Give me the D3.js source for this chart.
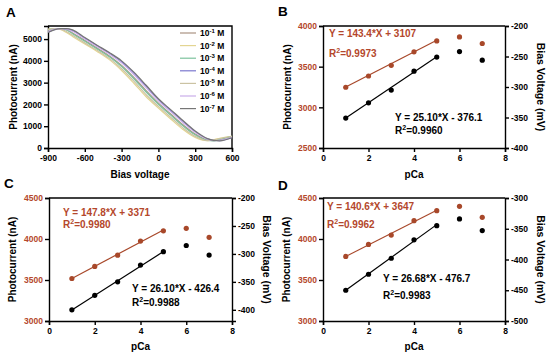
<!DOCTYPE html>
<html>
<head>
<meta charset="utf-8">
<script src="https://cdn.jsdelivr.net/npm/d3@7"></script>
<style>
  body { margin: 0; background: #fff; }
  svg { display: block; font-family: "Liberation Sans", Arial, sans-serif; font-weight: bold; }
</style>
</head>
<body>
<script>
// ---- panel A: photocurrent vs bias voltage, one curve per Ca concentration
const biasV = [-900, -850, -800, -750, -700, -600, -500, -400, -300, -200, -100, 0, 100, 200, 300, 400, 450, 500, 600];
const concExp = ["-1", "-2", "-3", "-4", "-5", "-6", "-7"];
const concColors = ["#a99282", "#e3d592", "#7cc29c", "#7b78cf", "#cbc3a3", "#c9aee9", "#767676"];
const curr1 = [5396, 5468, 5480, 5432, 5280, 4930, 4584, 4228, 3792, 3240, 2632, 2060, 1560, 1068, 640, 366, 334, 386, 526];
const curr2 = [5462, 5480, 5438, 5298, 5122, 4771, 4431, 4057, 3558, 2973, 2353, 1835, 1332, 852, 482, 336, 379, 449, 540];
const curr3 = [5420, 5480, 5480, 5420, 5245, 4895, 4550, 4190, 3740, 3180, 2570, 2010, 1510, 1020, 605, 350, 330, 400, 540];
const curr4 = [5319, 5430, 5480, 5470, 5392, 5042, 4693, 4350, 3958, 3432, 2830, 2220, 1720, 1222, 752, 417, 347, 341, 481];
const curr5 = [5440, 5480, 5456, 5350, 5175, 4825, 4482, 4114, 3636, 3066, 2446, 1910, 1410, 924, 535, 342, 358, 428, 540];
const curr6 = [5343, 5442, 5480, 5458, 5357, 5007, 4659, 4312, 3906, 3372, 2768, 2170, 1670, 1174, 717, 401, 343, 355, 495];
const curr7 = [5300, 5420, 5480, 5480, 5420, 5070, 4720, 4380, 4000, 3480, 2880, 2260, 1760, 1260, 780, 430, 350, 330, 470];
const currA = [curr1, curr2, curr3, curr4, curr5, curr6, curr7];

// ---- panels B, C, D: photocurrent (left) and bias voltage (right) vs pCa
const pCa = [1, 2, 3, 4, 5, 6, 7];
const photoB = [3247, 3385, 3516, 3682, 3817, 3866, 3785];
const biasB = [-351, -326, -305, -274, -251, -242, -256];
const photoC = [3518, 3665, 3803, 3975, 4100, 4130, 4020];
const biasC = [-400, -374, -350, -320, -296, -285, -302];
const photoD = [3787, 3934, 4048, 4223, 4345, 4398, 4264];
const biasD = [-450, -424, -398, -368, -345, -334, -353];

const fitB = { photo: [143.4, 3107, "0.9973"], bias: [25.10, -376.1, "0.9960"] };
const fitC = { photo: [147.8, 3371, "0.9980"], bias: [26.10, -426.4, "0.9988"] };
const fitD = { photo: [140.6, 3647, "0.9962"], bias: [26.68, -476.7, "0.9983"] };

const red = "#b4472b";
const redPt = "#a8482a";
const plain = d => String(d);   // keep ASCII hyphen, no thousands separator

const svg = d3.select("body").append("svg").attr("width", 550).attr("height", 358);

function label(x, y, txt, size, fill) {
  return svg.append("text").attr("x", x).attr("y", y).attr("font-size", size)
    .attr("fill", fill || "#000").text(txt);
}

function styleAxis(g, color) {
  g.select(".domain").attr("stroke", "#000").attr("stroke-width", 1.4);
  g.selectAll(".tick line").attr("stroke", "#000").attr("stroke-width", 1.4);
  g.selectAll(".tick text").attr("fill", color || "#000")
    .attr("font-size", 8.5).attr("font-family", "Liberation Sans, Arial, sans-serif").attr("font-weight", "bold");
}

// ---------- panel A ----------
{
  const L = 48, R = 232, T = 26, B = 148;
  const x = d3.scaleLinear().domain([-900, 600]).range([L, R]);
  const y = d3.scaleLinear().domain([0, 5600]).range([B, T]);

  svg.append("g").attr("transform", `translate(0,${B})`)
    .call(d3.axisBottom(x).tickValues([-900, -600, -300, 0, 300, 600]).tickFormat(plain).tickSize(4).tickPadding(3))
    .call(g => styleAxis(g));
  svg.append("g").attr("transform", `translate(${L},0)`)
    .call(d3.axisLeft(y).tickValues([0, 1000, 2000, 3000, 4000, 5000]).tickFormat(plain).tickSize(4).tickPadding(2))
    .call(g => styleAxis(g));
  svg.append("path").attr("d", `M${L},${T}H${R}V${B}`).attr("fill", "none").attr("stroke", "#000").attr("stroke-width", 1.4);

  const line = d3.line().x((d, i) => x(biasV[i])).y(d => y(d)).curve(d3.curveMonotoneX);
  currA.forEach((c, k) => {
    svg.append("path").attr("d", line(c)).attr("fill", "none")
      .attr("stroke", concColors[k]).attr("stroke-width", 1.2);
  });

  concExp.forEach((e, k) => {
    const yy = 33 + k * 12.6;
    svg.append("line").attr("x1", 180).attr("x2", 196).attr("y1", yy).attr("y2", yy)
      .attr("stroke", concColors[k]).attr("stroke-width", 1.2);
    const t = svg.append("text").attr("x", 200).attr("y", yy + 3).attr("font-size", 8.5);
    t.append("tspan").text("10");
    t.append("tspan").attr("dy", -3).attr("font-size", 6).text(e);
    t.append("tspan").attr("dy", 3).text(" M");
  });

  label(6, 17, "A", 13.5);
  label(13, (T + B) / 2, "Photocurrent (nA)", 10).attr("text-anchor", "middle")
    .attr("transform", `rotate(-90,13,${(T + B) / 2})`).attr("dy", "0.35em");
  label((L + R) / 2, 178, "Bias voltage", 10).attr("text-anchor", "middle");
}

// ---------- panels B, C, D ----------
function dualPanel(o) {
  const { L, R, T, B } = o;
  const x = d3.scaleLinear().domain([0, 8]).range([L, R]);
  const yL = d3.scaleLinear().domain(o.leftDom).range([B, T]);
  const yR = d3.scaleLinear().domain(o.rightDom).range([B, T]);

  svg.append("g").attr("transform", `translate(0,${B})`)
    .call(d3.axisBottom(x).tickValues([0, 2, 4, 6, 8]).tickFormat(plain).tickSize(4).tickPadding(3))
    .call(g => styleAxis(g));
  svg.append("g").attr("transform", `translate(${L},0)`)
    .call(d3.axisLeft(yL).tickValues(o.leftTicks).tickFormat(plain).tickSize(4).tickPadding(2))
    .call(g => styleAxis(g, red));
  svg.append("g").attr("transform", `translate(${R},0)`)
    .call(d3.axisRight(yR).tickValues(o.rightTicks).tickFormat(plain).tickSize(4).tickPadding(2))
    .call(g => styleAxis(g));
  svg.append("line").attr("x1", L).attr("x2", R).attr("y1", T).attr("y2", T)
    .attr("stroke", "#000").attr("stroke-width", 1.4);

  // fitted lines over pCa 1..5
  const fitX = [1, 5];
  svg.append("path").attr("fill", "none").attr("stroke", redPt).attr("stroke-width", 1.2)
    .attr("d", d3.line().x(d => x(d)).y(d => yL(o.fit.photo[0] * d + o.fit.photo[1]))(fitX));
  svg.append("path").attr("fill", "none").attr("stroke", "#000").attr("stroke-width", 1.2)
    .attr("d", d3.line().x(d => x(d)).y(d => yR(o.fit.bias[0] * d + o.fit.bias[1]))(fitX));

  svg.append("g").selectAll("circle").data(o.photo).join("circle")
    .attr("cx", (d, i) => x(pCa[i])).attr("cy", d => yL(d)).attr("r", 2.6).attr("fill", redPt);
  svg.append("g").selectAll("circle").data(o.bias).join("circle")
    .attr("cx", (d, i) => x(pCa[i])).attr("cy", d => yR(d)).attr("r", 2.6).attr("fill", "#000");

  const sign = v => v < 0 ? ` - ${Math.abs(v)}` : ` + ${v}`;
  const fmt = (a, b) => `Y = ${a.toFixed(1 + (a < 100 ? 1 : 0))}*X${sign(b)}`;
  function eq(px, py, f, color) {
    label(L + px[0], T + py[0], fmt(f[0], f[1]), 10, color);
    const t = svg.append("text").attr("x", L + px[0]).attr("y", T + py[1]).attr("font-size", 10).attr("fill", color);
    t.append("tspan").text("R");
    t.append("tspan").attr("dy", -4).attr("font-size", 7).text("2");
    t.append("tspan").attr("dy", 4).text("=" + f[2]);
  }
  eq(o.redPos, o.redY, o.fit.photo, red);
  eq(o.blackPos, o.blackY, o.fit.bias, "#000");

  label(o.letter[1], o.letter[2], o.letter[0], 13.5);
  const my = (T + B) / 2;
  label(o.leftTitleX, my, "Photocurrent (nA)", 10).attr("text-anchor", "middle")
    .attr("transform", `rotate(-90,${o.leftTitleX},${my})`).attr("dy", "0.35em");
  label(o.rightTitleX, my, "Bias Voltage (mV)", 10.5).attr("text-anchor", "middle")
    .attr("transform", `rotate(90,${o.rightTitleX},${my})`).attr("dy", "0.35em");
  label((L + R) / 2, o.xTitleY, "pCa", 10).attr("text-anchor", "middle");
}

dualPanel({
  L: 323, R: 505, T: 26, B: 148,
  leftDom: [2500, 4000], leftTicks: [2500, 3000, 3500, 4000],
  rightDom: [-400, -200], rightTicks: [-400, -350, -300, -250, -200],
  photo: photoB, bias: biasB, fit: fitB,
  redPos: [6], redY: [11, 31], blackPos: [72], blackY: [95, 108],
  letter: ["B", 278, 16], leftTitleX: 287, rightTitleX: 541, xTitleY: 178
});
dualPanel({
  L: 49, R: 232, T: 198, B: 321,
  leftDom: [3000, 4500], leftTicks: [3000, 3500, 4000, 4500],
  rightDom: [-420, -200], rightTicks: [-400, -350, -300, -250, -200],
  photo: photoC, bias: biasC, fit: fitC,
  redPos: [14], redY: [18, 30], blackPos: [83], blackY: [94, 108],
  letter: ["C", 4, 188], leftTitleX: 12, rightTitleX: 267, xTitleY: 350
});
dualPanel({
  L: 323, R: 505, T: 198, B: 321,
  leftDom: [3000, 4500], leftTicks: [3000, 3500, 4000, 4500],
  rightDom: [-500, -300], rightTicks: [-500, -450, -400, -350, -300],
  photo: photoD, bias: biasD, fit: fitD,
  redPos: [4], redY: [12, 30], blackPos: [60], blackY: [84, 101],
  letter: ["D", 278, 190], leftTitleX: 286, rightTitleX: 541, xTitleY: 350
});
</script>
</body>
</html>
